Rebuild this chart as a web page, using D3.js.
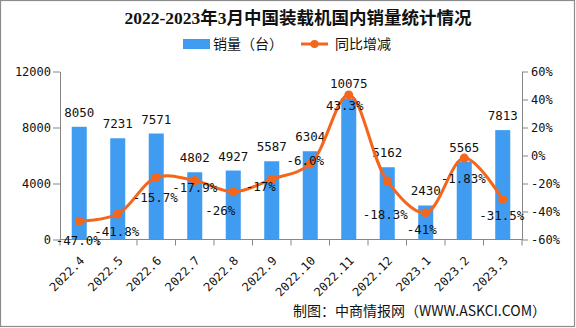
<!DOCTYPE html>
<html>
<head>
<meta charset="utf-8">
<script src="https://cdn.jsdelivr.net/npm/d3@7"></script>
<style>
  html, body { margin: 0; padding: 0; background: #fff; }
  svg { display: block; }
</style>
</head>
<body>
<div id="chart"></div>
<script>
// ---- data ----
const categories = ["2022.4","2022.5","2022.6","2022.7","2022.8","2022.9","2022.10","2022.11","2022.12","2023.1","2023.2","2023.3"];
const sales = [8050, 7231, 7571, 4802, 4927, 5587, 6304, 10075, 5162, 2430, 5565, 7813];
const yoy = [-47.0, -41.8, -15.7, -17.9, -26, -17, -6.0, 43.3, -18.3, -41, -1.83, -31.5];
const yoyLabels = ["-47.0%","-41.8%","-15.7%","-17.9%","-26%","-17%","-6.0%","43.3%","-18.3%","-41%","-1.83%","-31.5%"];
const leftTicks = [0, 4000, 8000, 12000];
const rightTicks = [-60, -40, -20, 0, 20, 40, 60];
const titleText = "2022-2023年3月中国装载机国内销量统计情况";
const legendBar = "销量（台）";
const legendLine = "同比增减";
const sourceText = "制图：中商情报网（WWW.ASKCI.COM）";

// label nudges (layout only): offset of each % label centre from its point
const labelNudge = [[-1,19],[-1,18],[-1,20],[0,7],[-13,19],[-11,7],[-5,-3],[-4,11],[-2,34],[-4,17],[-1,21],[-1,16]];

// ---- layout ----
const W = 576, H = 328;
const plot = { left: 60, right: 522, top: 71.5, bottom: 239.5 };
const barColor = "#3f9cf0";
const lineColor = "#f4661c";
const axisColor = "#868686";
const numFont = "'DejaVu Sans Mono', monospace";
const cjkFont = "'Noto Sans CJK SC', sans-serif";

const svg = d3.select("#chart").append("svg")
  .attr("width", W).attr("height", H);

svg.append("rect").attr("x", 0.5).attr("y", 0.5).attr("width", 574).attr("height", 326)
  .attr("fill", "#fff").attr("stroke", "#8c8c8c").attr("stroke-width", 1.2);

const x = d3.scaleBand().domain(categories).range([plot.left, plot.right])
  .paddingInner(0.61).paddingOuter(0.305);
const yL = d3.scaleLinear().domain([0, 12000]).range([plot.bottom, plot.top]);
const yR = d3.scaleLinear().domain([-60, 60]).range([plot.bottom, plot.top]);
const cx = d => x(d) + x.bandwidth() / 2;

// title
svg.append("text").attr("x", 298).attr("y", 24).attr("text-anchor", "middle")
  .attr("font-family", "'Liberation Serif', 'Noto Sans CJK SC', serif")
  .attr("font-weight", "bold").attr("font-size", 17.5).attr("fill", "#111")
  .text(titleText);

// legend
const lg = svg.append("g");
lg.append("rect").attr("x", 183).attr("y", 39).attr("width", 27).attr("height", 10).attr("fill", barColor);
lg.append("text").attr("x", 213).attr("y", 49).attr("font-family", cjkFont).attr("font-size", 14)
  .attr("fill", "#111").text(legendBar);
lg.append("line").attr("x1", 301).attr("x2", 328).attr("y1", 44).attr("y2", 44)
  .attr("stroke", lineColor).attr("stroke-width", 3);
lg.append("circle").attr("cx", 314.5).attr("cy", 44).attr("r", 4).attr("fill", lineColor);
lg.append("text").attr("x", 335).attr("y", 49).attr("font-family", cjkFont).attr("font-size", 14)
  .attr("fill", "#111").text(legendLine);

// bars
svg.append("g").selectAll("rect").data(categories).join("rect")
  .attr("x", d => x(d)).attr("width", x.bandwidth())
  .attr("y", (d, i) => yL(sales[i])).attr("height", (d, i) => plot.bottom - yL(sales[i]))
  .attr("fill", barColor);

// axes
const axL = svg.append("g").attr("transform", `translate(${plot.left},0)`)
  .call(d3.axisLeft(yL).tickValues(leftTicks).tickSize(7).tickSizeOuter(0).tickPadding(2).tickFormat(d3.format("d")));
const axR = svg.append("g").attr("transform", `translate(${plot.right},0)`)
  .call(d3.axisRight(yR).tickValues(rightTicks).tickSize(6).tickSizeOuter(0).tickPadding(3).tickFormat(d => d + "%"));
[axL, axR].forEach(a => {
  a.select(".domain").attr("stroke", axisColor);
  a.selectAll(".tick line").attr("stroke", axisColor);
  a.selectAll(".tick text").attr("font-family", numFont).attr("font-size", 12).attr("fill", "#111");
});

// bottom axis with ticks at band boundaries
const step = x.step();
const boundaries = categories.map(d => cx(d) - step / 2).concat([cx(categories[categories.length - 1]) + step / 2]);
const axB = svg.append("g");
axB.append("line").attr("x1", plot.left).attr("x2", plot.right).attr("y1", plot.bottom).attr("y2", plot.bottom)
  .attr("stroke", axisColor);
axB.selectAll("line.t").data(boundaries).join("line").attr("class", "t")
  .attr("x1", d => d).attr("x2", d => d).attr("y1", plot.bottom).attr("y2", plot.bottom + 6)
  .attr("stroke", axisColor);
axB.selectAll("text").data(categories).join("text")
  .attr("transform", d => `translate(${cx(d) + 3},${plot.bottom + 19}) rotate(-45)`)
  .attr("text-anchor", "end").attr("dy", "0.35em")
  .attr("font-family", numFont).attr("font-size", 12).attr("fill", "#111")
  .text(d => d);

// bar labels
svg.append("g").selectAll("text").data(categories).join("text")
  .attr("x", d => cx(d)).attr("y", (d, i) => yL(sales[i]) - 10)
  .attr("text-anchor", "middle").attr("font-family", numFont).attr("font-size", 12.5).attr("fill", "#111")
  .text((d, i) => sales[i]);

// line
const pts = categories.map((d, i) => [cx(d), yR(yoy[i])]);
svg.append("path").attr("d", d3.line().curve(d3.curveCatmullRom.alpha(0.5))(pts))
  .attr("fill", "none").attr("stroke", lineColor).attr("stroke-width", 3);
svg.append("g").selectAll("circle").data(pts).join("circle")
  .attr("cx", d => d[0]).attr("cy", d => d[1]).attr("r", 4.5).attr("fill", lineColor);

// % labels
svg.append("g").selectAll("text").data(categories).join("text")
  .attr("x", (d, i) => cx(d) + labelNudge[i][0]).attr("y", (d, i) => yR(yoy[i]) + labelNudge[i][1])
  .attr("dy", "0.35em").attr("text-anchor", "middle")
  .attr("font-family", numFont).attr("font-size", 12.5).attr("fill", "#111")
  .text((d, i) => yoyLabels[i]);

// source
svg.append("text").attr("x", 293).attr("y", 316).attr("font-family", cjkFont).attr("font-size", 14)
  .attr("fill", "#111").text(sourceText);
</script>
</body>
</html>
